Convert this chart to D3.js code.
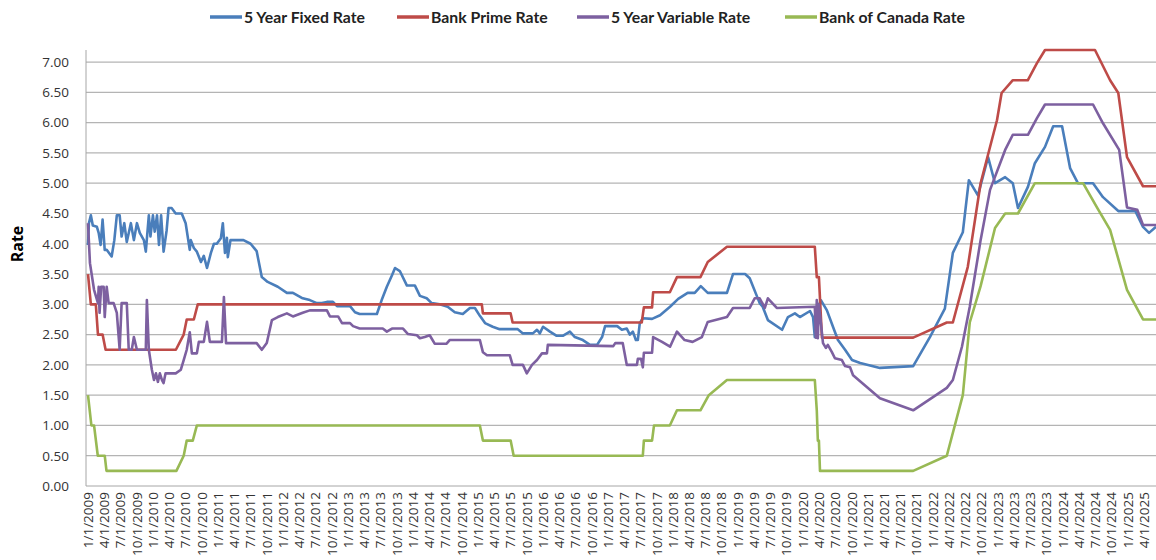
<!DOCTYPE html>
<html>
<head>
<meta charset="utf-8">
<script src="https://cdn.jsdelivr.net/npm/d3@7"></script>
<style>
  body { margin: 0; background: #fff; }
  svg { display: block; }
</style>
</head>
<body>
<svg id="chart" width="1156" height="560"></svg>
<script>
// series: [date, rate]
const fixedRate = [
  ["2009-01-01",3.98],["2009-01-06",4.34],["2009-01-17",4.47],["2009-01-28",4.30],["2009-02-20",4.28],
  ["2009-03-02",4.18],["2009-03-13",3.98],["2009-03-24",4.40],["2009-04-05",3.90],["2009-04-16",3.90],
  ["2009-05-14",3.79],["2009-05-29",4.06],["2009-06-12",4.47],["2009-06-28",4.47],["2009-07-09",4.12],
  ["2009-07-24",4.34],["2009-08-07",4.03],["2009-08-30",4.34],["2009-09-16",4.06],["2009-10-03",4.34],
  ["2009-10-19",4.18],["2009-11-11",4.06],["2009-11-22",3.87],["2009-12-09",4.47],["2009-12-18",4.12],
  ["2010-01-01",4.47],["2010-01-11",4.20],["2010-01-24",4.47],["2010-02-04",3.98],["2010-02-16",4.47],
  ["2010-03-02",3.87],["2010-03-19",4.22],["2010-03-30",4.59],["2010-04-16",4.59],["2010-05-09",4.50],
  ["2010-06-12",4.50],["2010-07-04",4.34],["2010-07-27",3.90],["2010-08-02",4.06],["2010-08-19",3.93],
  ["2010-09-05",3.87],["2010-09-28",3.70],["2010-10-14",3.80],["2010-11-01",3.60],["2010-11-23",3.85],
  ["2010-12-10",4.00],["2010-12-26",4.00],["2011-01-18",4.09],["2011-01-29",4.34],["2011-02-10",3.85],
  ["2011-02-21",4.10],["2011-02-26",3.78],["2011-03-13",4.06],["2011-05-25",4.06],["2011-07-04",4.00],
  ["2011-08-07",3.88],["2011-09-05",3.45],["2011-10-08",3.37],["2011-12-04",3.29],["2012-01-24",3.19],
  ["2012-02-27",3.19],["2012-04-22",3.10],["2012-06-01",3.07],["2012-07-10",3.02],["2012-08-08",3.02],
  ["2012-09-05",3.04],["2012-10-09",3.04],["2012-11-01",2.97],["2013-01-13",2.97],["2013-02-10",2.87],
  ["2013-03-08",2.84],["2013-06-13",2.84],["2013-07-10",3.07],["2013-08-08",3.29],["2013-09-06",3.48],
  ["2013-09-23",3.60],["2013-10-20",3.55],["2013-11-29",3.31],["2014-01-13",3.31],["2014-02-10",3.14],
  ["2014-03-20",3.10],["2014-04-17",3.02],["2014-06-01",3.00],["2014-07-16",2.96],["2014-08-25",2.87],
  ["2014-10-09",2.84],["2014-11-18",2.94],["2014-12-16",2.94],["2015-01-13",2.81],["2015-02-11",2.69],
  ["2015-03-26",2.63],["2015-05-04",2.59],["2015-08-14",2.59],["2015-09-12",2.52],["2015-11-07",2.52],
  ["2015-11-30",2.58],["2015-12-16",2.52],["2016-01-03",2.63],["2016-02-11",2.55],["2016-03-20",2.48],
  ["2016-04-23",2.48],["2016-06-02",2.55],["2016-06-30",2.46],["2016-08-14",2.41],["2016-09-23",2.33],
  ["2016-11-02",2.33],["2016-11-30",2.46],["2016-12-17",2.64],["2017-02-23",2.64],["2017-03-21",2.58],
  ["2017-04-18",2.60],["2017-05-05",2.50],["2017-05-22",2.55],["2017-06-08",2.41],["2017-06-19",2.41],
  ["2017-06-30",2.69],["2017-07-17",2.77],["2017-09-07",2.76],["2017-10-22",2.82],["2017-12-17",2.96],
  ["2018-02-01",3.09],["2018-03-26",3.19],["2018-05-05",3.19],["2018-06-08",3.30],["2018-07-17",3.19],
  ["2018-11-02",3.19],["2018-12-06",3.50],["2019-02-12",3.50],["2019-03-10",3.43],["2019-05-05",3.02],
  ["2019-05-22",2.96],["2019-06-20",2.74],["2019-09-08",2.58],["2019-10-11",2.79],["2019-11-19",2.85],
  ["2019-12-17",2.79],["2020-02-12",2.89],["2020-02-29",2.79],["2020-03-10",2.46],["2020-03-21",2.90],
  ["2020-04-13",3.07],["2020-05-17",2.90],["2020-06-20",2.63],["2020-07-18",2.41],["2020-08-27",2.25],
  ["2020-10-05",2.08],["2020-11-20",2.03],["2021-03-11",1.95],["2021-09-14",1.98],["2021-12-17",2.46],
  ["2022-03-11",2.93],["2022-04-25",3.85],["2022-06-20",4.19],["2022-07-24",5.05],["2022-09-13",4.80],
  ["2022-11-09",5.43],["2022-12-18",5.00],["2023-02-13",5.10],["2023-03-28",5.00],["2023-04-26",4.59],
  ["2023-06-21",4.94],["2023-07-30",5.33],["2023-09-25",5.60],["2023-11-10",5.94],["2023-12-30",5.94],
  ["2024-02-13",5.25],["2024-03-28",5.00],["2024-06-21",5.00],["2024-08-16",4.77],["2024-11-10",4.54],
  ["2025-02-14",4.54],["2025-03-29",4.28],["2025-05-02",4.18],["2025-06-10",4.28]
];

const primeRate = [
  ["2009-01-01",3.50],["2009-01-17",3.00],["2009-02-14",3.00],["2009-02-26",2.50],["2009-03-24",2.50],
  ["2009-04-10",2.25],["2010-05-10",2.25],["2010-06-23",2.50],["2010-07-10",2.75],["2010-08-19",2.75],
  ["2010-09-10",3.00],["2015-01-24",3.00],["2015-01-30",2.85],["2015-07-05",2.85],["2015-07-16",2.70],
  ["2017-07-11",2.70],["2017-07-23",2.95],["2017-09-07",2.95],["2017-09-13",3.20],["2017-12-16",3.20],
  ["2018-01-25",3.45],["2018-06-06",3.45],["2018-07-17",3.70],["2018-11-02",3.95],["2020-03-10",3.95],
  ["2020-03-21",3.45],["2020-04-02",3.45],["2020-04-19",2.45],["2021-09-14",2.45],["2022-03-22",2.70],
  ["2022-04-25",2.70],["2022-07-18",3.62],["2022-09-28",5.00],["2022-12-29",6.04],["2023-01-24",6.49],
  ["2023-03-27",6.70],["2023-06-20",6.70],["2023-08-10",6.98],["2023-09-25",7.20],["2024-07-02",7.20],
  ["2024-09-25",6.70],["2024-11-10",6.49],["2024-12-29",5.43],["2025-03-29",4.95],["2025-06-10",4.95]
];

const variableRate = [
  ["2009-01-01",4.34],["2009-01-12",3.68],["2009-02-04",3.24],["2009-02-26",3.02],["2009-03-02",3.29],
  ["2009-03-07",2.86],["2009-03-16",3.29],["2009-03-30",3.29],["2009-04-05",2.79],["2009-04-16",3.29],
  ["2009-04-27",3.02],["2009-05-25",3.02],["2009-06-12",2.86],["2009-06-28",2.25],["2009-07-09",3.02],
  ["2009-08-07",3.02],["2009-08-18",2.25],["2009-09-04",2.25],["2009-09-16",2.46],["2009-10-03",2.25],
  ["2009-11-22",2.25],["2009-11-28",3.07],["2009-12-09",2.25],["2009-12-26",1.92],["2010-01-07",1.75],
  ["2010-01-18",1.86],["2010-01-29",1.72],["2010-02-09",1.86],["2010-02-21",1.75],["2010-03-02",1.70],
  ["2010-03-13",1.86],["2010-05-09",1.86],["2010-06-07",1.92],["2010-06-23",2.08],["2010-07-10",2.25],
  ["2010-07-27",2.54],["2010-08-08",2.19],["2010-09-05",2.19],["2010-09-16",2.38],["2010-10-14",2.38],
  ["2010-11-01",2.71],["2010-11-17",2.38],["2011-01-24",2.38],["2011-02-04",3.12],["2011-02-16",2.36],
  ["2011-08-07",2.36],["2011-09-05",2.25],["2011-10-03",2.36],["2011-11-01",2.74],["2011-12-04",2.79],
  ["2012-01-24",2.85],["2012-02-27",2.80],["2012-04-22",2.86],["2012-06-01",2.90],["2012-09-05",2.90],
  ["2012-09-22",2.80],["2012-11-07",2.80],["2012-11-29",2.69],["2013-01-13",2.69],["2013-01-30",2.64],
  ["2013-03-08",2.60],["2013-07-16",2.60],["2013-08-08",2.55],["2013-09-06",2.60],["2013-11-07",2.60],
  ["2013-12-05",2.51],["2014-01-24",2.49],["2014-02-10",2.44],["2014-03-09",2.46],["2014-04-06",2.49],
  ["2014-05-04",2.35],["2014-07-10",2.35],["2014-07-27",2.41],["2015-01-13",2.41],["2015-01-30",2.21],
  ["2015-02-22",2.16],["2015-06-30",2.16],["2015-07-16",2.00],["2015-09-12",2.00],["2015-10-04",1.86],
  ["2015-11-02",2.00],["2015-11-30",2.08],["2015-12-28",2.19],["2016-01-25",2.19],["2016-01-30",2.33],
  ["2017-02-01",2.31],["2017-02-12",2.36],["2017-03-26",2.36],["2017-04-18",2.00],["2017-06-14",2.00],
  ["2017-06-19",2.10],["2017-07-07",2.10],["2017-07-17",1.96],["2017-07-23",2.20],["2017-09-07",2.20],
  ["2017-09-13",2.46],["2017-11-02",2.38],["2017-12-17",2.30],["2018-01-25",2.55],["2018-03-09",2.41],
  ["2018-04-23",2.38],["2018-06-14",2.46],["2018-07-17",2.71],["2018-11-02",2.79],["2018-12-06",2.94],
  ["2019-03-10",2.94],["2019-04-07",3.10],["2019-05-05",3.10],["2019-06-03",2.94],["2019-06-20",3.10],
  ["2019-08-09",2.94],["2020-03-10",2.96],["2020-03-16",2.45],["2020-03-21",3.07],["2020-03-27",2.44],
  ["2020-04-02",3.00],["2020-04-25",2.36],["2020-05-11",2.28],["2020-05-22",2.33],["2020-06-14",2.21],
  ["2020-07-01",2.11],["2020-08-09",2.08],["2020-08-27",1.98],["2020-09-24",1.96],["2020-10-11",1.83],
  ["2021-03-11",1.45],["2021-09-14",1.25],["2022-03-22",1.62],["2022-04-25",1.75],["2022-06-15",2.30],
  ["2022-07-29",2.96],["2022-09-28",4.06],["2022-11-20",4.89],["2023-02-13",5.55],["2023-03-28",5.80],
  ["2023-06-21",5.80],["2023-08-10",6.07],["2023-09-25",6.30],["2024-06-21",6.30],["2024-08-16",5.99],
  ["2024-11-15",5.55],["2024-12-29",4.60],["2025-02-25",4.56],["2025-03-29",4.31],["2025-06-10",4.31]
];

const bocRate = [
  ["2009-01-01",1.50],["2009-01-20",1.00],["2009-02-04",1.00],["2009-02-25",0.50],["2009-04-05",0.50],
  ["2009-04-15",0.25],["2010-05-13",0.25],["2010-06-23",0.50],["2010-07-10",0.75],["2010-08-13",0.75],
  ["2010-09-05",1.00],["2015-01-13",1.00],["2015-01-30",0.75],["2015-07-05",0.75],["2015-07-22",0.50],
  ["2017-07-17",0.50],["2017-07-23",0.75],["2017-09-07",0.75],["2017-09-18",1.00],["2017-12-16",1.00],
  ["2018-01-25",1.25],["2018-06-06",1.25],["2018-07-23",1.50],["2018-11-02",1.75],["2020-03-10",1.75],
  ["2020-03-21",1.25],["2020-03-27",0.75],["2020-04-02",0.75],["2020-04-08",0.25],["2021-09-14",0.25],
  ["2022-03-22",0.50],["2022-06-20",1.50],["2022-07-29",2.70],["2022-09-28",3.30],["2022-12-18",4.26],
  ["2023-02-13",4.50],["2023-04-26",4.50],["2023-07-30",5.00],["2024-04-26",5.00],["2024-07-13",4.60],
  ["2024-09-25",4.23],["2024-12-29",3.24],["2025-03-29",2.75],["2025-06-10",2.75]
];

const seriesNames = ["5 Year Fixed Rate", "Bank Prime Rate", "5 Year Variable Rate", "Bank of Canada Rate"];
const seriesColors = ["#4a7ebb", "#be4b48", "#7d60a0", "#98b954"];
const yTicks = [0, 0.5, 1, 1.5, 2, 2.5, 3, 3.5, 4, 4.5, 5, 5.5, 6, 6.5, 7];
const yMax = 7.2;
const firstTick = "2009-01-01", lastTick = "2025-04-01", lastDate = "2025-06-10";

const parseDate = d3.timeParse("%Y-%m-%d");
const fmtTick = d3.timeFormat("%-m/%-d/%Y");

const svg = d3.select("#chart");
const margin = { left: 86, top: 50, right: 1156, bottom: 486 };

const xScale = d3.scaleTime()
  .domain([parseDate(firstTick), parseDate(lastDate)])
  .range([88, margin.right]);
const yScale = d3.scaleLinear().domain([0, yMax]).range([margin.bottom, margin.top]);

// gridlines
svg.append("g")
  .selectAll("line")
  .data(yTicks.slice(1))
  .enter()
  .append("line")
  .attr("x1", margin.left).attr("x2", margin.right)
  .attr("y1", d => yScale(d)).attr("y2", d => yScale(d))
  .style("stroke", "#b4b4b4")
  .style("stroke-width", 1.2);

// y axis
const yAxis = d3.axisLeft(yScale).tickValues(yTicks).tickFormat(d3.format(".2f")).tickSize(0).tickPadding(17);
const gy = svg.append("g").attr("transform", `translate(${margin.left},0)`).call(yAxis);
gy.select(".domain").attr("d", `M0,${margin.top}V${margin.bottom}`).style("stroke", "#a6a6a6");
gy.selectAll("text").style("font-family", "'Open Sans', sans-serif").style("font-size", "13.5px").style("fill", "#333");

// x axis
const quarters = d3.timeMonth.every(3).range(parseDate(firstTick), d3.timeDay.offset(parseDate(lastTick), 1));
const xAxis = d3.axisBottom(xScale).tickValues(quarters).tickFormat(fmtTick).tickSize(0);
const gx = svg.append("g").attr("transform", `translate(0,${margin.bottom})`).call(xAxis);
gx.select(".domain").attr("d", `M${margin.left},0H${margin.right}`).style("stroke", "#a6a6a6");
gx.selectAll("text")
  .attr("transform", "rotate(-90)")
  .attr("x", -6)
  .attr("y", 0)
  .attr("dy", "0.35em")
  .style("text-anchor", "end")
  .style("font-family", "'Open Sans', sans-serif")
  .style("font-size", "13.5px")
  .style("fill", "#333");

// axis title
svg.append("text")
  .attr("transform", "rotate(-90)")
  .attr("x", -244)
  .attr("y", 23)
  .attr("text-anchor", "middle")
  .style("font-family", "'Open Sans', sans-serif")
  .style("font-weight", "bold")
  .style("font-size", "16px")
  .text("Rate");

// lines
const line = d3.line()
  .x(d => xScale(parseDate(d[0])))
  .y(d => yScale(d[1]));

[fixedRate, primeRate, variableRate, bocRate].forEach((s, i) => {
  svg.append("path")
    .datum(s)
    .attr("d", line)
    .style("fill", "none")
    .style("stroke", seriesColors[i])
    .style("stroke-width", 2.6)
    .style("stroke-linejoin", "round");
});

// legend
const legendX = [210, 397, 577, 785];
seriesNames.forEach((name, i) => {
  svg.append("line")
    .attr("x1", legendX[i]).attr("x2", legendX[i] + 32)
    .attr("y1", 17).attr("y2", 17)
    .style("stroke", seriesColors[i])
    .style("stroke-width", 3.5);
  svg.append("text")
    .attr("x", legendX[i] + 34)
    .attr("y", 17)
    .attr("dy", "0.35em")
    .style("font-family", "'Liberation Sans Narrow', 'Lato', sans-serif")
    .style("font-weight", "bold")
    .style("font-size", "15.8px")
    .style("fill", "#222")
    .text(name);
});
</script>
</body>
</html>
